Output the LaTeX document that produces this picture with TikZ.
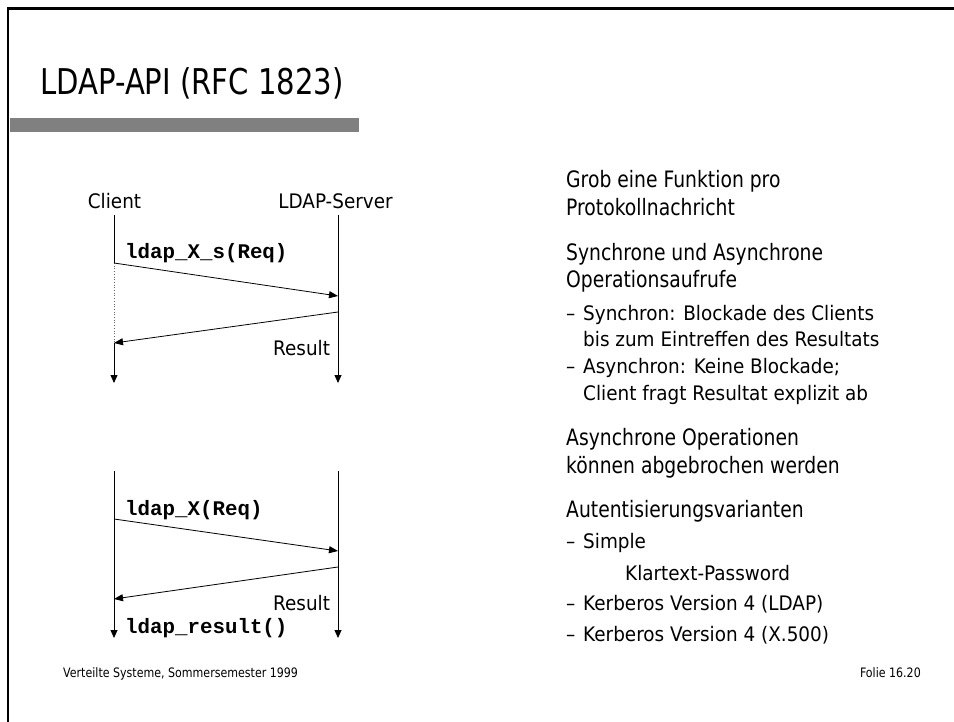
\documentclass[tikz,border=0pt]{standalone}
\usepackage{fontspec}
\usetikzlibrary{arrows.meta}
\setmainfont{DejaVu Sans}
\newfontfamily\tahTitle[FakeStretch=0.82]{DejaVu Sans}
\newfontfamily\tahMain[FakeStretch=0.83]{DejaVu Sans}
\newfontfamily\tahSub[FakeStretch=0.92]{DejaVu Sans}
\newfontfamily\tahFoot[FakeStretch=0.85]{DejaVu Sans}
\newfontfamily\codefont{Liberation Mono}
\begin{document}
\begin{tikzpicture}[x=1pt,y=-1pt,
  ttl/.style={font=\tahTitle\fontsize{35.5}{40}\selectfont, anchor=base west, inner sep=0},
  mtxt/.style={font=\tahMain\fontsize{22.6}{27}\selectfont, anchor=base west, inner sep=0},
  stxt/.style={font=\tahSub\fontsize{20}{24}\selectfont, anchor=base west, inner sep=0},
  lab/.style={font=\tahSub\fontsize{20}{24}\selectfont, anchor=base, inner sep=0},
  code/.style={font=\codefont\bfseries\fontsize{20.8}{24}\selectfont, anchor=base west, inner sep=0},
  foot/.style={font=\tahFoot\fontsize{13}{15}\selectfont, inner sep=0},
  life/.style={line width=0.8pt},
  lifeend/.style={line width=0.8pt, -{Triangle[length=8pt,width=7pt]}},
  msg/.style={line width=0.8pt, -{Triangle[length=9pt,width=7pt]}},
  dotline/.style={line width=0.7pt, black!60, dotted}]
\useasboundingbox (0,0) rectangle (954,721);
\clip (0,0) rectangle (954,721);
\fill[white] (0,0) rectangle (954,721);
% frame
\draw[line width=2.5pt] (8,730) -- (8,8.5) -- (960,8.5);
% title
\node[ttl] (title) at (40,94) {LDAP-API (RFC 1823)};
\fill[black!50] (9.5,118) rectangle (359,132);
% diagram 1
\node[lab] (client) at (114.5,208) {Client};
\node[lab] (server) at (335.5,208) {LDAP-Server};
\coordinate (c1top) at (114,215);
\coordinate (c1bot) at (114,383);
\coordinate (s1top) at (338,215);
\coordinate (s1bot) at (338,383);
\coordinate (m1a) at (114,263);
\coordinate (m1b) at (338,296);
\coordinate (r1a) at (338,312);
\coordinate (r1b) at (114,343);
\draw[life] (c1top) -- (m1a);
\draw[dotline] (m1a) -- (r1b);
\draw[lifeend] (r1b) -- (c1bot);
\draw[lifeend] (s1top) -- (s1bot);
\draw[msg] (m1a) -- (m1b);
\draw[msg] (r1a) -- (r1b);
\node[code] (req1) at (125,258) {ldap\_X\_s(Req)};
\node[stxt] (res1) at (273,355) {Result};
% diagram 2
\coordinate (c2top) at (114,471);
\coordinate (c2bot) at (114,638);
\coordinate (s2top) at (338,471);
\coordinate (s2bot) at (338,638);
\coordinate (m2a) at (114,519);
\coordinate (m2b) at (338,551);
\coordinate (r2a) at (338,567);
\coordinate (r2b) at (114,599);
\draw[lifeend] (c2top) -- (c2bot);
\draw[lifeend] (s2top) -- (s2bot);
\draw[msg] (m2a) -- (m2b);
\draw[msg] (r2a) -- (r2b);
\node[code] (req2) at (125,515) {ldap\_X(Req)};
\node[stxt] (res2) at (273,610) {Result};
\node[code] (res2b) at (125,633) {ldap\_result()};
% right column
\node[mtxt] (t1) at (566,187) {Grob eine Funktion pro};
\node[mtxt] (t2) at (566,215) {Protokollnachricht};
\node[mtxt] (t3) at (566,260) {Synchrone und Asynchrone};
\node[mtxt] (t4) at (566,287) {Operationsaufrufe};
\node[stxt] (d1) at (566,320) {–};
\node[stxt] (t5) at (583,320) {Synchron: Blockade des Clients};
\node[stxt] (t6) at (583,346) {bis zum Eintreffen des Resultats};
\node[stxt] (d2) at (566,373) {–};
\node[stxt] (t7) at (583,373) {Asynchron: Keine Blockade;};
\node[stxt] (t8) at (583,400) {Client fragt Resultat explizit ab};
\node[mtxt] (t9) at (566,445) {Asynchrone Operationen};
\node[mtxt] (t10) at (566,473) {können abgebrochen werden};
\node[mtxt] (t11) at (566,517) {Autentisierungsvarianten};
\node[stxt] (d3) at (566,548) {–};
\node[stxt] (t12) at (583,548) {Simple};
\node[stxt] (t13) at (625,580) {Klartext-Password};
\node[stxt] (d4) at (566,610) {–};
\node[stxt] (t14) at (583,610) {Kerberos Version 4 (LDAP)};
\node[stxt] (d5) at (566,641) {–};
\node[stxt] (t15) at (583,641) {Kerberos Version 4 (X.500)};
% footer
\node[foot, anchor=base west] (f1) at (63,677) {Verteilte Systeme, Sommersemester 1999};
\node[foot, anchor=base east] (f2) at (921,677) {Folie 16.20};
\end{tikzpicture}
\end{document}
